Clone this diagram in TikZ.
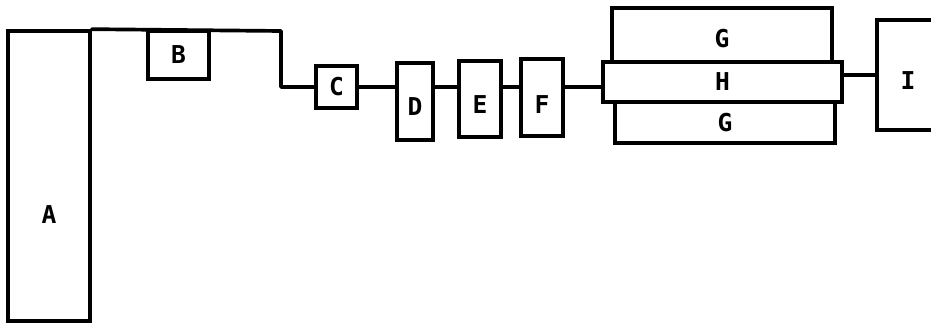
\documentclass[tikz,border=0pt]{standalone}
\usepackage{fontspec}
\newfontfamily\letterfont{DejaVu Sans Mono}
\tikzset{
  box/.style={draw=black, line width=2.1pt, fill=white, inner sep=0pt},
  lab/.style={font=\letterfont\bfseries\fontsize{14}{16}\selectfont, text=black},
  wire/.style={draw=black, line width=2.1pt, line cap=round, line join=round}
}
\begin{document}
\begin{tikzpicture}[x=0.02cm, y=-0.02cm]
\useasboundingbox (0,0) rectangle (931,323);
% blocks
\node[box, minimum width=1.64cm, minimum height=5.8cm, label={[lab,yshift=-39*0.567pt]center:A}] (A) at (49,176) {};
\node[box, minimum width=1.22cm, minimum height=0.96cm, label={[lab]center:B}] (B) at (178.5,55) {};
\node[box, minimum width=0.82cm, minimum height=0.84cm, label={[lab]center:C}] (C) at (336.5,87) {};
\node[box, minimum width=0.72cm, minimum height=1.54cm, label={[lab,yshift=-5*0.567pt]center:D}] (D) at (415,101.5) {};
\node[box, minimum width=0.84cm, minimum height=1.52cm, label={[lab,yshift=-6*0.567pt]center:E}] (E) at (480,99) {};
\node[box, minimum width=0.84cm, minimum height=1.54cm, label={[lab,yshift=-7*0.567pt]center:F}] (F) at (542,97.5) {};
\node[box, minimum width=4.4cm, minimum height=1.08cm, label={[lab,yshift=-4*0.567pt]center:G}] (G1) at (722,35) {};
\node[box, minimum width=4.4cm, minimum height=0.82cm, label={[lab]center:G}] (G2) at (725,122.5) {};
\node[box, minimum width=4.78cm, minimum height=0.8cm, label={[lab]center:H}] (H) at (722.5,82) {};
\node[box, minimum width=1.36cm, minimum height=2.2cm, label={[lab,xshift=-3*0.567pt,yshift=-6*0.567pt]center:I}] (I) at (911,75) {};
% connectors
\coordinate (bend) at (281,31);
\draw[wire] (A.north east) -- (bend) |- (C.west);
\draw[wire] (C.east) -- (C.east -| D.west);
\draw[wire] (C.east -| D.east) -- (C.east -| E.west);
\draw[wire] (C.east -| E.east) -- (C.east -| F.west);
\draw[wire] (C.east -| F.east) -- (C.east -| H.west);
\draw[wire] (I.west -| H.east) -- (I.west);
\end{tikzpicture}
\end{document}
